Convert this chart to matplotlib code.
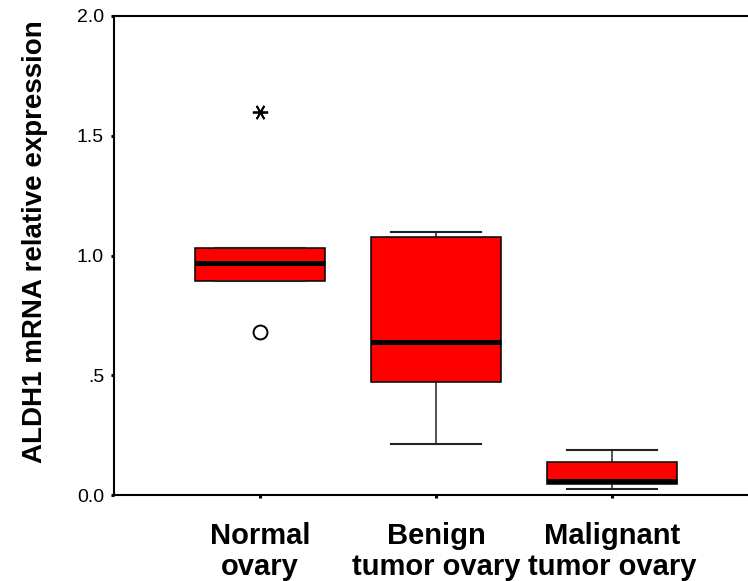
import matplotlib.pyplot as plt

# ---------------------------------
# Data
# ---------------------------------
groups = ['Normal\novary', 'Benign\ntumor ovary', 'Malignant\ntumor ovary']
q1 = [0.895, 0.472, 0.046]
med = [0.967, 0.639, 0.058]
q3 = [1.030, 1.078, 0.138]
whislo = [0.895, 0.214, 0.026]
whishi = [1.030, 1.100, 0.187]
# outliers (circle) and extremes (star), per group
outliers = [[0.68], [], []]
extremes = [[1.60], [], []]

yticks = [0.0, 0.5, 1.0, 1.5, 2.0]
yticklabels = ['0.0', '.5', '1.0', '1.5', '2.0']

plt.rcParams['font.family'] = ['Liberation Sans', 'DejaVu Sans']


def main():
    fig = plt.figure(figsize=(7.48, 5.81), dpi=100)
    W, H = 748, 581
    # axes frame runs past the right edge of the picture
    ax = fig.add_axes([114 / W, (H - 495) / H, (758 - 114) / W, (495 - 16) / H])

    stats = []
    for i in range(len(groups)):
        stats.append({'q1': q1[i], 'med': med[i], 'q3': q3[i],
                      'whislo': whislo[i], 'whishi': whishi[i],
                      'fliers': []})

    pos = list(range(1, len(groups) + 1))
    ax.bxp(stats, positions=pos, widths=0.744, capwidths=0.51,
           patch_artist=True, showfliers=False,
           boxprops=dict(facecolor='#ff0000', edgecolor='black', lw=1.1),
           medianprops=dict(color='black', lw=3.6, solid_capstyle='butt'),
           whiskerprops=dict(color='#222222', lw=1.1),
           capprops=dict(color='#222222', lw=1.5))

    for p, vals in zip(pos, outliers):
        if vals:
            ax.plot([p] * len(vals), vals, ls='none', marker='o', ms=10,
                    mfc='white', mec='black', mew=1.4)
    for p, vals in zip(pos, extremes):
        if vals:
            ax.plot([p] * len(vals), vals, ls='none', marker=(6, 2, 90),
                    ms=11, mec='black', mew=1.3)

    ax.set_xlim(0.17, 3.83)
    ax.set_ylim(0, 2.0)
    ax.set_yticks(yticks)
    ax.set_yticklabels(yticklabels, fontsize=14)
    ax.set_xticks(pos)
    ax.set_xticklabels(groups, fontsize=21, fontweight='bold', linespacing=1.13)
    ax.tick_params(axis='y', direction='out', length=2.2, width=2.2, pad=5)
    ax.tick_params(axis='x', direction='out', length=2.2, width=2.2, pad=17)

    for s in ax.spines.values():
        s.set_linewidth(1.5)
    ax.spines['right'].set_visible(False)

    ax.set_ylabel('ALDH1 mRNA relative expression', fontsize=20,
                  fontweight='bold')
    ax.yaxis.set_label_coords(-66 / 644, 0.529)

    fig.savefig('out.png', dpi=100)


if __name__ == "__main__":
    main()
